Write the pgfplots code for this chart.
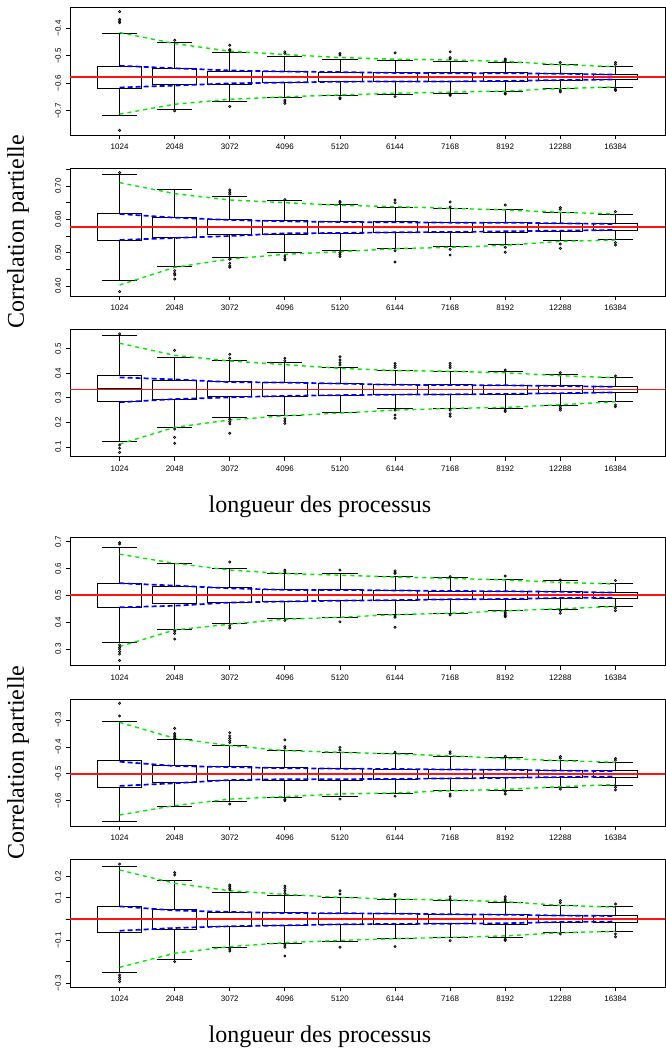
\documentclass[border=0pt]{standalone}
\usepackage{fontspec}
\setmainfont{Liberation Serif}
\setsansfont{Liberation Sans}
\usepackage{pgfplots}
\pgfplotsset{compat=1.18}
\usepgfplotslibrary{statistics}
\definecolor{gline}{RGB}{0,235,0}
\definecolor{bline}{RGB}{0,0,255}
\definecolor{rline}{RGB}{255,20,20}
\pgfplotsset{
  boxplot/draw/.code={%
    \draw[black,line width=0.4pt,dash pattern=on 1.5pt off 1.5pt]
      (boxplot cs:\pgfplotsboxplotvalue{lower whisker}) -- (boxplot cs:\pgfplotsboxplotvalue{lower quartile})
      (boxplot cs:\pgfplotsboxplotvalue{upper quartile}) -- (boxplot cs:\pgfplotsboxplotvalue{upper whisker});
    \draw[black,line width=0.5pt]
      (boxplot box cs:\pgfplotsboxplotvalue{lower whisker},0.25) -- (boxplot box cs:\pgfplotsboxplotvalue{lower whisker},0.75)
      (boxplot box cs:\pgfplotsboxplotvalue{upper whisker},0.25) -- (boxplot box cs:\pgfplotsboxplotvalue{upper whisker},0.75);
    \draw[black,line width=0.5pt]
      (boxplot box cs:\pgfplotsboxplotvalue{lower quartile},0) rectangle (boxplot box cs:\pgfplotsboxplotvalue{upper quartile},1);
    \draw[black,line width=1.3pt]
      (boxplot box cs:\pgfplotsboxplotvalue{median},0) -- (boxplot box cs:\pgfplotsboxplotvalue{median},1);
  },
  panel/.style={
    at={(35pt,#1)}, anchor=north west,
    scale only axis, width=297.5pt,
    xmin=0.1, xmax=10.9,
    xtick={1,...,10},
    xticklabels={1024,2048,3072,4096,5120,6144,7168,8192,12288,16384},
    tick align=outside, major tick length=2.2pt,
    xtick pos=bottom, ytick pos=left,
    tick style={black, line width=0.4pt},
    axis line style={line width=0.5pt},
    ticklabel style={font=\sffamily\fontsize{4}{5}\selectfont, inner sep=0pt},
    xticklabel style={anchor=north, yshift=-2.2pt},
    yticklabel style={rotate=90, anchor=south, outer ysep=2.3pt},
    boxplot/draw direction=y,
    clip=false,
  },
  bx/.style={black, mark=o, mark size=0.55pt, mark options={solid, line width=0.35pt},
    boxplot/draw direction=y, boxplot/box extend=0.8},
  bl/.style={draw=bline, line width=0.85pt, dash pattern=on 2.5pt off 1.5pt},
  gl/.style={draw=gline, line width=0.7pt, dash pattern=on 2pt off 2pt},
}
\newcommand\bx[7]{\addplot[bx, boxplot prepared={draw position=#1, lower whisker=#2, lower quartile=#3, median=#4, upper quartile=#5, upper whisker=#6}] coordinates {#7};}
\newcommand\rl[1]{\addplot[color=rline, solid, line width=0.8pt, mark=none, forget plot] coordinates {(0.1,#1) (5.5,#1) (10.9,#1)};}
\begin{document}
\begin{tikzpicture}
\useasboundingbox (0,0) rectangle (332.5pt,-524.5pt);
% ---------- Panel 1
\begin{axis}[panel={-3.5pt}, height=64pt, ymin=-0.788, ymax=-0.322,
  ytick={-0.7,-0.6,-0.5,-0.4}, yticklabels={−0.7,−0.6,−0.5,−0.4}]
\bx{1}{-0.716}{-0.619}{-0.577}{-0.537}{-0.419}{(0,-0.339)(0,-0.367)(0,-0.373)(0,-0.379)(0,-0.771)}
\bx{2}{-0.695}{-0.605}{-0.577}{-0.545}{-0.452}{(0,-0.443)(0,-0.700)}
\bx{3}{-0.667}{-0.602}{-0.577}{-0.557}{-0.489}{(0,-0.461)(0,-0.477)(0,-0.481)(0,-0.684)}
\bx{4}{-0.652}{-0.597}{-0.577}{-0.557}{-0.501}{(0,-0.485)(0,-0.491)(0,-0.661)(0,-0.667)(0,-0.673)}
\bx{5}{-0.642}{-0.593}{-0.577}{-0.560}{-0.511}{(0,-0.491)(0,-0.497)(0,-0.652)(0,-0.656)}
\bx{6}{-0.641}{-0.593}{-0.577}{-0.561}{-0.518}{(0,-0.489)(0,-0.648)}
\bx{7}{-0.636}{-0.592}{-0.577}{-0.560}{-0.519}{(0,-0.485)(0,-0.506)(0,-0.511)(0,-0.641)(0,-0.644)}
\bx{8}{-0.631}{-0.592}{-0.577}{-0.561}{-0.523}{(0,-0.511)(0,-0.515)(0,-0.519)(0,-0.636)(0,-0.639)}
\bx{9}{-0.620}{-0.588}{-0.577}{-0.565}{-0.530}{(0,-0.524)(0,-0.625)(0,-0.631)}
\bx{10}{-0.615}{-0.587}{-0.577}{-0.566}{-0.539}{(0,-0.524)(0,-0.531)(0,-0.621)(0,-0.626)}
\addplot[bl] coordinates {(1,-0.536)(2,-0.545)(3,-0.553)(4,-0.557)(5,-0.559)(6,-0.562)(7,-0.563)(8,-0.563)(9,-0.565)(10,-0.568)};
\addplot[bl] coordinates {(1,-0.615)(2,-0.608)(3,-0.600)(4,-0.597)(5,-0.594)(6,-0.593)(7,-0.593)(8,-0.591)(9,-0.588)(10,-0.586)};
\addplot[gl] coordinates {(1,-0.415)(2,-0.455)(3,-0.483)(4,-0.495)(5,-0.506)(6,-0.512)(7,-0.515)(8,-0.520)(9,-0.532)(10,-0.539)};
\addplot[gl] coordinates {(1,-0.712)(2,-0.676)(3,-0.658)(4,-0.649)(5,-0.642)(6,-0.636)(7,-0.632)(8,-0.628)(9,-0.619)(10,-0.613)};
\rl{-0.577}
\end{axis}
% ---------- Panel 2
\begin{axis}[panel={-84.15pt}, height=63.85pt, ymin=0.370, ymax=0.753,
  ytick={0.40,0.45,0.50,0.55,0.60,0.65,0.70,0.75}, yticklabels={0.40,,0.50,,0.60,,0.70,}]
\bx{1}{0.416}{0.536}{0.580}{0.618}{0.735}{(0,0.740)(0,0.383)}
\bx{2}{0.458}{0.547}{0.576}{0.605}{0.691}{(0,0.446)(0,0.438)(0,0.433)(0,0.421)}
\bx{3}{0.486}{0.556}{0.580}{0.600}{0.668}{(0,0.688)(0,0.681)(0,0.675)(0,0.480)(0,0.468)(0,0.460)(0,0.456)}
\bx{4}{0.500}{0.556}{0.577}{0.596}{0.656}{(0,0.659)(0,0.490)(0,0.483)(0,0.478)}
\bx{5}{0.506}{0.558}{0.576}{0.593}{0.644}{(0,0.654)(0,0.650)(0,0.500)(0,0.494)(0,0.488)}
\bx{6}{0.514}{0.560}{0.577}{0.593}{0.637}{(0,0.658)(0,0.650)(0,0.506)(0,0.472)}
\bx{7}{0.518}{0.562}{0.576}{0.591}{0.632}{(0,0.652)(0,0.637)(0,0.510)(0,0.493)}
\bx{8}{0.525}{0.562}{0.575}{0.591}{0.630}{(0,0.643)(0,0.516)(0,0.501)}
\bx{9}{0.536}{0.565}{0.576}{0.588}{0.622}{(0,0.635)(0,0.630)(0,0.526)(0,0.513)}
\bx{10}{0.540}{0.567}{0.577}{0.588}{0.616}{(0,0.623)(0,0.530)(0,0.523)}
\addplot[bl] coordinates {(1,0.616)(2,0.605)(3,0.598)(4,0.594)(5,0.592)(6,0.591)(7,0.590)(8,0.590)(9,0.588)(10,0.586)};
\addplot[bl] coordinates {(1,0.538)(2,0.544)(3,0.550)(4,0.558)(5,0.559)(6,0.561)(7,0.562)(8,0.564)(9,0.566)(10,0.568)};
\addplot[gl] coordinates {(1,0.710)(2,0.677)(3,0.658)(4,0.650)(5,0.642)(6,0.638)(7,0.633)(8,0.628)(9,0.621)(10,0.616)};
\addplot[gl] coordinates {(1,0.403)(2,0.456)(3,0.481)(4,0.495)(5,0.503)(6,0.512)(7,0.516)(8,0.522)(9,0.534)(10,0.538)};
\rl{0.5765}
\end{axis}
% ---------- Panel 3
\begin{axis}[panel={-164.5pt}, height=63.85pt, ymin=0.0605, ymax=0.580,
  ytick={0.1,0.2,0.3,0.4,0.5}, yticklabels={0.1,0.2,0.3,0.4,0.5}]
\bx{1}{0.123}{0.284}{0.339}{0.390}{0.553}{(0,0.560)(0,0.108)(0,0.095)(0,0.078)}
\bx{2}{0.180}{0.294}{0.335}{0.371}{0.465}{(0,0.493)(0,0.173)(0,0.139)(0,0.115)}
\bx{3}{0.219}{0.306}{0.335}{0.366}{0.454}{(0,0.477)(0,0.461)(0,0.213)(0,0.203)(0,0.194)(0,0.156)}
\bx{4}{0.229}{0.307}{0.335}{0.363}{0.443}{(0,0.461)(0,0.451)(0,0.215)(0,0.206)(0,0.196)}
\bx{5}{0.241}{0.309}{0.334}{0.359}{0.423}{(0,0.467)(0,0.454)(0,0.443)(0,0.434)}
\bx{6}{0.257}{0.316}{0.334}{0.355}{0.413}{(0,0.440)(0,0.431)(0,0.423)(0,0.250)(0,0.230)(0,0.217)}
\bx{7}{0.259}{0.316}{0.334}{0.354}{0.409}{(0,0.440)(0,0.431)(0,0.423)(0,0.250)(0,0.235)(0,0.225)}
\bx{8}{0.257}{0.316}{0.334}{0.352}{0.406}{(0,0.413)(0,0.250)(0,0.244)}
\bx{9}{0.271}{0.318}{0.334}{0.349}{0.396}{(0,0.402)(0,0.264)(0,0.257)(0,0.250)}
\bx{10}{0.284}{0.321}{0.334}{0.345}{0.383}{(0,0.389)(0,0.271)(0,0.264)}
\addplot[bl] coordinates {(1,0.383)(2,0.375)(3,0.364)(4,0.362)(5,0.358)(6,0.353)(7,0.352)(8,0.351)(9,0.348)(10,0.345)};
\addplot[bl] coordinates {(1,0.282)(2,0.295)(3,0.302)(4,0.308)(5,0.311)(6,0.313)(7,0.314)(8,0.316)(9,0.319)(10,0.322)};
\addplot[gl] coordinates {(1,0.522)(2,0.473)(3,0.450)(4,0.435)(5,0.420)(6,0.411)(7,0.408)(8,0.402)(9,0.390)(10,0.382)};
\addplot[gl] coordinates {(1,0.112)(2,0.180)(3,0.210)(4,0.227)(5,0.238)(6,0.250)(7,0.257)(8,0.261)(9,0.272)(10,0.284)};
\rl{0.3342}
\end{axis}
% ---------- Panel 4
\begin{axis}[panel={-268.65pt}, height=64.2pt, ymin=0.2376, ymax=0.716,
  ytick={0.3,0.4,0.5,0.6,0.7}, yticklabels={0.3,0.4,0.5,0.6,0.7}]
\bx{1}{0.326}{0.455}{0.500}{0.545}{0.679}{(0,0.696)(0,0.691)(0,0.315)(0,0.306)(0,0.299)(0,0.290)(0,0.281)(0,0.257)}
\bx{2}{0.373}{0.468}{0.500}{0.532}{0.618}{(0,0.367)(0,0.358)(0,0.337)}
\bx{3}{0.397}{0.475}{0.504}{0.529}{0.600}{(0,0.624)(0,0.386)(0,0.378)}
\bx{4}{0.413}{0.476}{0.500}{0.522}{0.582}{(0,0.594)(0,0.587)(0,0.406)}
\bx{5}{0.418}{0.480}{0.500}{0.521}{0.583}{(0,0.594)(0,0.401)}
\bx{6}{0.430}{0.480}{0.500}{0.517}{0.571}{(0,0.591)(0,0.586)(0,0.581)(0,0.423)(0,0.418)(0,0.381)}
\bx{7}{0.432}{0.484}{0.500}{0.516}{0.566}{(0,0.570)(0,0.427)}
\bx{8}{0.442}{0.485}{0.500}{0.515}{0.560}{(0,0.572)(0,0.437)(0,0.430)(0,0.425)(0,0.420)}
\bx{9}{0.449}{0.489}{0.500}{0.514}{0.555}{(0,0.557)(0,0.443)(0,0.433)}
\bx{10}{0.459}{0.489}{0.500}{0.511}{0.545}{(0,0.555)(0,0.452)(0,0.443)}
\addplot[bl] coordinates {(1,0.545)(2,0.536)(3,0.526)(4,0.520)(5,0.520)(6,0.518)(7,0.516)(8,0.515)(9,0.513)(10,0.510)};
\addplot[bl] coordinates {(1,0.455)(2,0.461)(3,0.473)(4,0.477)(5,0.480)(6,0.482)(7,0.485)(8,0.486)(9,0.490)(10,0.491)};
\addplot[gl] coordinates {(1,0.653)(2,0.619)(3,0.594)(4,0.581)(5,0.575)(6,0.568)(7,0.563)(8,0.557)(9,0.548)(10,0.542)};
\addplot[gl] coordinates {(1,0.309)(2,0.371)(3,0.392)(4,0.411)(5,0.418)(6,0.428)(7,0.433)(8,0.442)(9,0.450)(10,0.458)};
\rl{0.5005}
\end{axis}
% ---------- Panel 5
\begin{axis}[panel={-349.5pt}, height=63.5pt, ymin=-0.694, ymax=-0.222,
  ytick={-0.6,-0.5,-0.4,-0.3}, yticklabels={−0.6,−0.5,−0.4,−0.3}]
\bx{1}{-0.678}{-0.550}{-0.500}{-0.452}{-0.307}{(0,-0.238)(0,-0.285)}
\bx{2}{-0.621}{-0.533}{-0.500}{-0.470}{-0.373}{(0,-0.331)(0,-0.350)(0,-0.356)(0,-0.362)(0,-0.368)}
\bx{3}{-0.604}{-0.524}{-0.500}{-0.473}{-0.395}{(0,-0.347)(0,-0.359)(0,-0.368)(0,-0.377)(0,-0.384)(0,-0.612)}
\bx{4}{-0.587}{-0.523}{-0.500}{-0.478}{-0.413}{(0,-0.374)(0,-0.399)(0,-0.405)(0,-0.595)(0,-0.600)}
\bx{5}{-0.583}{-0.523}{-0.500}{-0.481}{-0.420}{(0,-0.402)(0,-0.412)(0,-0.594)}
\bx{6}{-0.573}{-0.520}{-0.500}{-0.483}{-0.424}{(0,-0.420)(0,-0.583)}
\bx{7}{-0.563}{-0.517}{-0.500}{-0.484}{-0.436}{(0,-0.418)(0,-0.424)(0,-0.575)(0,-0.583)}
\bx{8}{-0.560}{-0.515}{-0.500}{-0.485}{-0.439}{(0,-0.435)(0,-0.566)(0,-0.575)}
\bx{9}{-0.549}{-0.514}{-0.500}{-0.488}{-0.451}{(0,-0.436)(0,-0.442)(0,-0.557)}
\bx{10}{-0.542}{-0.512}{-0.500}{-0.489}{-0.456}{(0,-0.443)(0,-0.449)(0,-0.550)(0,-0.560)}
\addplot[bl] coordinates {(1,-0.455)(2,-0.471)(3,-0.475)(4,-0.479)(5,-0.481)(6,-0.482)(7,-0.484)(8,-0.485)(9,-0.488)(10,-0.490)};
\addplot[bl] coordinates {(1,-0.545)(2,-0.535)(3,-0.523)(4,-0.520)(5,-0.520)(6,-0.519)(7,-0.517)(8,-0.515)(9,-0.512)(10,-0.510)};
\addplot[gl] coordinates {(1,-0.309)(2,-0.368)(3,-0.395)(4,-0.414)(5,-0.420)(6,-0.426)(7,-0.433)(8,-0.443)(9,-0.451)(10,-0.457)};
\addplot[gl] coordinates {(1,-0.653)(2,-0.618)(3,-0.594)(4,-0.585)(5,-0.575)(6,-0.571)(7,-0.563)(8,-0.558)(9,-0.548)(10,-0.540)};
\rl{-0.5}
\end{axis}
% ---------- Panel 6
\begin{axis}[panel={-429.65pt}, height=63.85pt, ymin=-0.318, ymax=0.279,
  ytick={-0.3,-0.2,-0.1,0,0.1,0.2}, yticklabels={−0.3,,−0.1,,0.1,0.2}]
\bx{1}{-0.249}{-0.062}{0.000}{0.059}{0.248}{(0,0.257)(0,-0.262)(0,-0.273)(0,-0.282)(0,-0.293)}
\bx{2}{-0.188}{-0.050}{0.003}{0.044}{0.181}{(0,0.217)(0,0.206)(0,-0.199)}
\bx{3}{-0.132}{-0.034}{0.000}{0.031}{0.123}{(0,0.159)(0,0.151)(0,0.143)(0,0.136)(0,-0.140)(0,-0.150)}
\bx{4}{-0.112}{-0.028}{0.000}{0.030}{0.112}{(0,0.154)(0,0.143)(0,0.132)(0,0.120)(0,-0.121)(0,-0.132)(0,-0.173)}
\bx{5}{-0.103}{-0.026}{0.000}{0.028}{0.101}{(0,0.132)(0,0.117)(0,-0.132)}
\bx{6}{-0.090}{-0.023}{0.000}{0.026}{0.093}{(0,0.115)(0,0.107)(0,-0.129)}
\bx{7}{-0.086}{-0.022}{0.000}{0.022}{0.086}{(0,0.104)(0,0.093)(0,-0.101)}
\bx{8}{-0.087}{-0.023}{0.000}{0.022}{0.078}{(0,0.104)(0,0.093)(0,0.084)(0,-0.095)(0,-0.101)}
\bx{9}{-0.065}{-0.016}{0.000}{0.017}{0.065}{(0,0.086)(0,0.076)(0,-0.070)}
\bx{10}{-0.056}{-0.016}{0.000}{0.016}{0.058}{(0,0.070)(0,-0.070)(0,-0.083)}
\addplot[bl] coordinates {(1,0.059)(2,0.040)(3,0.033)(4,0.028)(5,0.027)(6,0.025)(7,0.022)(8,0.020)(9,0.016)(10,0.014)};
\addplot[bl] coordinates {(1,-0.055)(2,-0.042)(3,-0.034)(4,-0.030)(5,-0.025)(6,-0.023)(7,-0.022)(8,-0.020)(9,-0.014)(10,-0.012)};
\addplot[gl] coordinates {(1,0.229)(2,0.167)(3,0.132)(4,0.115)(5,0.101)(6,0.093)(7,0.089)(8,0.081)(9,0.064)(10,0.055)};
\addplot[gl] coordinates {(1,-0.226)(2,-0.160)(3,-0.129)(4,-0.111)(5,-0.100)(6,-0.092)(7,-0.086)(8,-0.079)(9,-0.064)(10,-0.058)};
\rl{0}
\end{axis}
% ---------- labels
\node[rotate=90, font=\fontsize{12}{14}\selectfont] at (9pt,-116pt) {Correlation partielle};
\node[rotate=90, font=\fontsize{12}{14}\selectfont] at (9pt,-381.25pt) {Correlation partielle};
\node[font=\fontsize{12}{14}\selectfont] at (160pt,-253.5pt) {longueur des processus};
\node[font=\fontsize{12}{14}\selectfont] at (160pt,-518.5pt) {longueur des processus};
\end{tikzpicture}
\end{document}
